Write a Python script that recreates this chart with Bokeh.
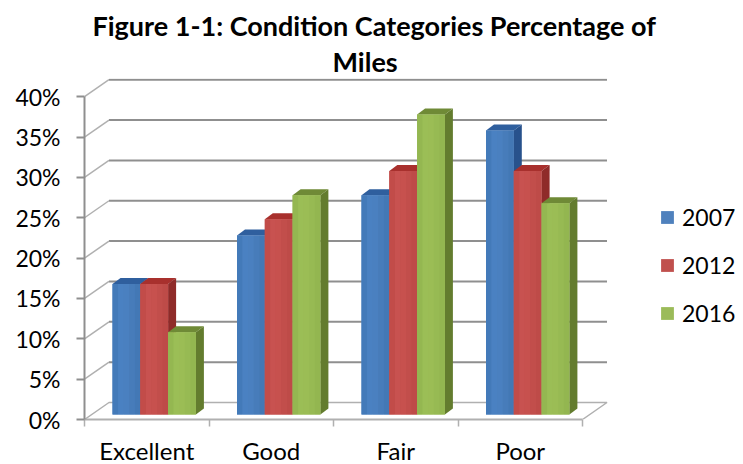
from bokeh.plotting import figure
from bokeh.models import FixedTicker, Legend, LegendItem, Title
from bokeh.embed import file_html
from bokeh.resources import INLINE

categories = ["Excellent", "Good", "Fair", "Poor"]
series_names = ["2007", "2012", "2016"]
v2007 = [16, 22, 27, 35]
v2012 = [16, 24, 30, 30]
v2016 = [10, 27, 37, 26]
y_ticks = [0, 5, 10, 15, 20, 25, 30, 35, 40]
title_line1 = "Figure 1-1: Condition Categories Percentage of"
title_line2 = "Miles"

colors = ["#4f81bd", "#c0504d", "#9bbb59"]
strips = [
    ["#437ab9", "#4a81c2", "#4a80c0", "#477cba", "#4378b5"],
    ["#c24c49", "#c85250", "#c7514e", "#c24e4b", "#be4b48"],
    ["#94b751", "#9bbe56", "#9bbd55", "#97ba53", "#93b650"],
]
top_colors = ["#2f5f9e", "#a8302d", "#6f8a36"]
side_colors = ["#28528c", "#8f2b29", "#637c2e"]
series = [v2007, v2012, v2016]

FONT = "Lato"
GRID = "#8f8f8f"
FLOOR = "#b0b0b0"

PX_X = 124.5     # pixels per category
PX_Y = 8.07      # pixels per percent
back_dx, back_dy = 24.5 / PX_X, 17 / PX_Y
bar_dx, bar_dy = 8 / PX_X, 6 / PX_Y
bar_w = 27.8 / PX_X
bar_start = 28 / PX_X
base, lift = 5 / PX_Y, 0.8
n = len(categories)

p = figure(
    width=743, height=464, frame_width=657, frame_height=341,
    x_range=(0, 657 / PX_X), y_range=(0, 341 / PX_Y),
    output_backend="svg", toolbar_location=None,
    min_border_left=84, min_border_right=2, min_border_top=78, min_border_bottom=45,
    outline_line_color=None,
)
p.grid.visible = False

# back wall and floor
wall = y_ticks[1:]
p.segment([back_dx] * len(wall), [t + back_dy for t in wall],
          [n + back_dx] * len(wall), [t + back_dy for t in wall],
          line_color=GRID, line_width=2)
p.segment([0] * len(wall), wall, [back_dx] * len(wall), [t + back_dy for t in wall],
          line_color=FLOOR, line_width=1.5)
p.line([0, back_dx, n + back_dx, n], [0, back_dy, back_dy, 0], line_color=FLOOR, line_width=1.5)

# bars
legend_items = []
for s, vals in enumerate(series):
    x0 = [i + bar_start + s * bar_w for i in range(n)]
    x1 = [x + bar_w for x in x0]
    top = [v + lift for v in vals]
    solid = p.quad(left=x0, right=x1, bottom=[base] * n, top=top,
                   fill_color=colors[s], line_color=None)
    legend_items.append(LegendItem(label=series_names[s], renderers=[solid]))
    p.patches([[a, a + bar_dx, b + bar_dx, b] for a, b in zip(x0, x1)],
              [[t, t + bar_dy, t + bar_dy, t] for t in top],
              fill_color=top_colors[s], line_color=None)
    p.patches([[b, b + bar_dx, b + bar_dx, b] for b in x1],
              [[base, base + bar_dy, t + bar_dy, t] for t in top],
              fill_color=side_colors[s], line_color=None)
    k = len(strips[s])
    for j, c in enumerate(strips[s]):
        p.quad(left=[x + bar_w * j / k for x in x0],
               right=[x + bar_w * (j + 1) / k for x in x0],
               bottom=[base] * n, top=top, fill_color=c, line_color=None)

# axes
p.yaxis.bounds = (0, 40)
p.yaxis.ticker = FixedTicker(ticks=y_ticks)
p.yaxis.major_label_overrides = {t: f"{t}%" for t in y_ticks}
p.yaxis.major_label_text_font = FONT
p.yaxis.major_label_text_font_size = "23px"
p.yaxis.major_label_text_color = "#000000"
p.yaxis.major_label_standoff = 16
p.yaxis.axis_line_color = GRID
p.yaxis.axis_line_width = 2
p.yaxis.major_tick_line_color = GRID
p.yaxis.major_tick_line_width = 2
p.yaxis.major_tick_out = 8
p.yaxis.major_tick_in = 0
p.yaxis.minor_tick_line_color = None

mids = [i + 0.5 for i in range(n)]
p.xaxis.bounds = (0, n)
p.xaxis.ticker = FixedTicker(ticks=mids, minor_ticks=list(range(n + 1)))
p.xaxis.major_label_overrides = dict(zip(mids, categories))
p.xaxis.major_label_text_font = FONT
p.xaxis.major_label_text_font_size = "24px"
p.xaxis.major_label_text_color = "#000000"
p.xaxis.major_label_standoff = 9
p.xaxis.axis_line_color = FLOOR
p.xaxis.axis_line_width = 2
p.xaxis.major_tick_line_color = None
p.xaxis.major_tick_out = 0
p.xaxis.major_tick_in = 0
p.xaxis.minor_tick_line_color = FLOOR
p.xaxis.minor_tick_line_width = 1.5
p.xaxis.minor_tick_out = 7
p.xaxis.minor_tick_in = 0

p.title = Title(text=title_line1, align="left", offset=8, text_font=FONT,
                text_font_size="27px", text_font_style="bold",
                text_color="#000000", standoff=2)
p.add_layout(Title(text=title_line2, align="left", offset=248, text_font=FONT,
                   text_font_size="27px", text_font_style="bold",
                   text_color="#000000", standoff=1), "above")

legend = Legend(items=legend_items, location=(575, 92), orientation="vertical",
                glyph_width=16, glyph_height=16, label_standoff=7, spacing=20,
                label_height=24, padding=0, margin=0, background_fill_alpha=0,
                border_line_color=None, label_text_font=FONT,
                label_text_font_size="23px", label_text_color="#000000")
p.add_layout(legend)

open("out.html", "w").write(file_html(p, INLINE))
